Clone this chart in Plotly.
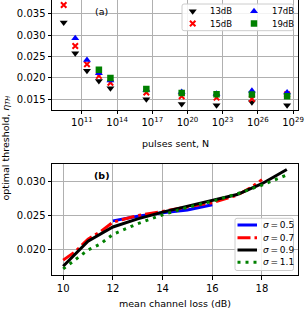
import plotly.graph_objects as go

# ---------------- data: panel (a) ----------------
pulses_sent = [2.8e9, 2.7e10, 2.7e11, 2.8e12, 2.7e13, 3.1e16, 3.2e19, 3.0e22, 3.1e25, 3.1e28]
thr_13dB = [0.0330, 0.0258, 0.0217, 0.0193, 0.0176, 0.0150, 0.0139, 0.0136, 0.0143, 0.0136]
thr_15dB = [0.0371, 0.0275, 0.0232, 0.0205, 0.0189, 0.0166, 0.0157, 0.0154, 0.0151, 0.0162]
thr_17dB = [None, 0.0293, 0.0242, 0.0211, 0.0194, 0.0172, 0.0167, 0.0163, 0.0170, 0.0166]
thr_19dB = [None, None, None, 0.0219, 0.0200, 0.0174, 0.0165, 0.0162, 0.0161, 0.0157]
series_a_names = ["13dB", "15dB", "17dB", "19dB"]
pulse_tick_exponents = [11, 14, 17, 20, 23, 26, 29]
thr_ticks_a = [0.015, 0.020, 0.025, 0.030, 0.035]

# ---------------- data: panel (b) ----------------
loss_s05 = [12, 13, 14, 15, 16]
thr_s05 = [0.0242, 0.0249, 0.0254, 0.0258, 0.0266]
loss_s07 = [10, 10.5, 11, 11.5, 12, 13, 14, 15, 16, 17, 17.5, 18]
thr_s07 = [0.0184, 0.0197, 0.0215, 0.0226, 0.0240, 0.0250, 0.0256, 0.0263, 0.0269, 0.0280, 0.0290, 0.0303]
loss_s09 = [10, 11, 12, 13, 14, 15, 16, 17, 18, 19]
thr_s09 = [0.0175, 0.0212, 0.0233, 0.0245, 0.0255, 0.0264, 0.0272, 0.0281, 0.0297, 0.0318]
loss_s11 = [10, 10.5, 11, 11.5, 12, 13, 14, 15, 16, 17, 18, 19]
thr_s11 = [0.0171, 0.0185, 0.0199, 0.0208, 0.0222, 0.0238, 0.0251, 0.0262, 0.0271, 0.0282, 0.0295, 0.0310]
sigma_labels = ["0.5", "0.7", "0.9", "1.1"]
loss_ticks = [10, 12, 14, 16, 18]
thr_ticks_b = [0.020, 0.025, 0.030]

FONT = "DejaVu Sans"
W, H = 305, 309
ML, MR, MT, MB = 52, 7, 0, 34
PW = W - ML - MR
PH = H - MT - MB  # plot area height in px
TOP_BOTTOM_PX = 109.5
BOT_TOP_PX = 164.3


def px_to_paper(px, py):
    return (px - ML) / PW, (PH - (py - MT)) / PH


fig = go.Figure()

styles_a = [
    dict(symbol="triangle-down", color="black", size=7, line=dict(width=0)),
    dict(symbol="x-thin", color="red", size=5.5, line=dict(width=2, color="red")),
    dict(symbol="triangle-up", color="blue", size=7, line=dict(width=0)),
    dict(symbol="square", color="#008000", size=6.5, line=dict(width=0)),
]
values_a = [thr_13dB, thr_15dB, thr_17dB, thr_19dB]
for name, vals, st in zip(series_a_names, values_a, styles_a):
    fig.add_trace(go.Scatter(x=pulses_sent, y=vals, mode="markers", name=name,
                             marker=st, xaxis="x", yaxis="y", showlegend=False))

lines_b = [
    (loss_s05, thr_s05, dict(color="blue", width=3, dash="solid")),
    (loss_s07, thr_s07, dict(color="red", width=3, dash="13px,4px,3px,4px")),
    (loss_s09, thr_s09, dict(color="black", width=3, dash="solid")),
    (loss_s11, thr_s11, dict(color="#008000", width=3, dash="3px,5px")),
]
for (lx, ly, ln), lab in zip(lines_b, sigma_labels):
    fig.add_trace(go.Scatter(x=lx, y=ly, mode="lines", name="σ = " + lab, line=ln,
                             xaxis="x2", yaxis="y2", showlegend=False))

# ---------------- custom legends (pixel-coordinate helper axes) ----------------
def rrect(x0, y0, x1, y1, r=2):
    return (f"M{x0+r},{y0} L{x1-r},{y0} Q{x1},{y0} {x1},{y0+r} L{x1},{y1-r} "
            f"Q{x1},{y1} {x1-r},{y1} L{x0+r},{y1} Q{x0},{y1} {x0},{y1-r} "
            f"L{x0},{y0+r} Q{x0},{y0} {x0+r},{y0} Z")

shapes = []
annotations = []
box_style = dict(type="path", xref="x3", yref="y3", layer="below",
                 fillcolor="rgba(255,255,255,0.85)", line=dict(color="#cccccc", width=1))
shapes.append(dict(path=rrect(182, 4, 293.3, 30.7), **box_style))
shapes.append(dict(path=rrect(235, 218.3, 293.5, 270.5), **box_style))

# top legend keys (column-major like the original)
key_pos_a = [(192.7, 11.2), (192.7, 23.5), (254, 11.2), (254, 23.5)]
for name, st, (kx, ky) in zip(series_a_names, styles_a, key_pos_a):
    fig.add_trace(go.Scatter(x=[kx], y=[ky], mode="markers", marker=st,
                             xaxis="x3", yaxis="y3", showlegend=False, hoverinfo="skip"))
    annotations.append(dict(x=kx + 15.5, y=ky, xref="x3", yref="y3", text=name,
                            showarrow=False, xanchor="left", yanchor="middle",
                            font=dict(family=FONT, size=8.5, color="black")))

# bottom legend keys
key_rows_b = [225, 237.7, 250, 262.3]
for (lx, ly, ln), lab, ky in zip(lines_b, sigma_labels, key_rows_b):
    shapes.append(dict(type="line", xref="x3", yref="y3", x0=237.5, x1=257, y0=ky, y1=ky,
                       line=dict(color=ln["color"], width=3, dash=ln["dash"])))
    annotations.append(dict(x=261, y=ky, xref="x3", yref="y3",
                            text="<i>σ</i>\u2009=\u2009" + lab,
                            showarrow=False, xanchor="left", yanchor="middle",
                            font=dict(family=FONT, size=9, color="black")))

# panel labels and axis titles (paper coordinates)
def paper_text(px, py, text, size=9.5, angle=0):
    xp, yp = px_to_paper(px, py)
    return dict(x=xp, y=yp, xref="paper", yref="paper", text=text, showarrow=False,
                xanchor="center", yanchor="middle", textangle=angle,
                font=dict(family=FONT, size=size, color="black"))

annotations += [
    paper_text(101.5, 11.7, "(a)"),
    paper_text(101.5, 175.7, "<b>(b)</b>"),
    paper_text(175, 143.5, "pulses sent, N"),
    paper_text(175, 303.3, "mean channel loss (dB)"),
    paper_text(5.5, 148, "optimal threshold, <i>η</i><sub><i>TH</i></sub>", angle=-90),
]

axis_common = dict(showline=True, linecolor="black", linewidth=1,
                   ticks="outside", ticklen=3.5, tickwidth=0.8, tickcolor="black",
                   showgrid=True, gridcolor="#b0b0b0", gridwidth=0.8, zeroline=False,
                   tickfont=dict(family=FONT, size=10, color="black"))

fig.update_layout(
    width=W, height=H,
    margin=dict(l=ML, r=MR, t=MT, b=MB, pad=0),
    paper_bgcolor="white", plot_bgcolor="rgba(0,0,0,0)",
    showlegend=False,
    font=dict(family=FONT, size=10, color="black"),
    xaxis=dict(type="log", range=[8.45, 29.42], domain=[0, 1], anchor="y",
               tickvals=[10.0 ** e for e in pulse_tick_exponents],
               ticktext=[f"10<sup>{e}</sup>" for e in pulse_tick_exponents],
               mirror=False, **axis_common),
    yaxis=dict(range=[0.01261, 0.03828], domain=[(PH - TOP_BOTTOM_PX) / PH, 1], anchor="x",
               tickvals=thr_ticks_a, tickformat=".3f", mirror=True, **axis_common),
    xaxis2=dict(range=[9.55, 19.45], domain=[0, 1], anchor="y2",
                tickvals=loss_ticks, mirror=True, **axis_common),
    yaxis2=dict(range=[0.0162, 0.03257], domain=[0, (PH - BOT_TOP_PX) / PH], anchor="x2",
                tickvals=thr_ticks_b, tickformat=".3f", mirror=True, **axis_common),
    xaxis3=dict(range=[ML, W - MR], domain=[0, 1], anchor="y3", visible=False, fixedrange=True),
    yaxis3=dict(range=[PH, 0], domain=[0, 1], anchor="x3", visible=False, fixedrange=True),
    shapes=shapes,
    annotations=annotations,
)

fig.write_html("out.html", config={"displayModeBar": False},
               post_script="document.body.style.margin='0px';")
